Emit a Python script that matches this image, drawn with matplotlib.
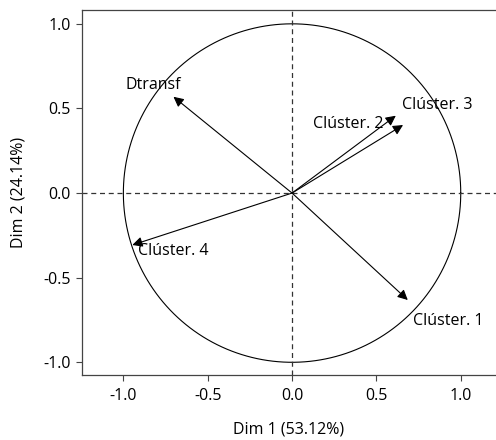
import numpy as np
import matplotlib.pyplot as plt

# Coordenadas de las variables (Dim 1, Dim 2)
variables = ['Dtransf', 'Clúster. 2', 'Clúster. 3', 'Clúster. 4', 'Clúster. 1']
dim1 = [-0.703, 0.615, 0.658, -0.947, 0.686]
dim2 = [0.569, 0.457, 0.402, -0.307, -0.632]

# Posición de las etiquetas
lab_x = [-0.99, 0.125, 0.652, -0.912, 0.717]
lab_y = [0.64, 0.41, 0.52, -0.34, -0.755]

ticks = [-1.0, -0.5, 0.0, 0.5, 1.0]
tick_labels = ['-1.0', '-0.5', '0.0', '0.5', '1.0']

plt.rcParams['font.family'] = ['Open Sans', 'DejaVu Sans']

fig = plt.figure(figsize=(4.96, 4.4), dpi=100)
ax = fig.add_axes([0.1647, 0.147, 0.8353, 0.83])

# Círculo de correlación
t = np.linspace(0, 2 * np.pi, 400)
ax.plot(np.cos(t), np.sin(t), color='black', lw=0.8)

ax.axhline(0, color='#333333', lw=0.9, ls=(0, (4, 3)))
ax.axvline(0, color='#333333', lw=0.9, ls=(0, (4, 3)))

for i in range(len(variables)):
    ax.annotate('', xy=(dim1[i], dim2[i]), xytext=(0, 0),
                arrowprops=dict(arrowstyle='-|>', color='black', lw=0.8,
                                mutation_scale=15, shrinkA=0, shrinkB=0))
    ax.text(lab_x[i], lab_y[i], variables[i], fontsize=11.5, ha='left', va='center')

ax.set_xlim(-1.247, 1.209)
ax.set_ylim(-1.077, 1.081)
ax.set_xticks(ticks)
ax.set_xticklabels(tick_labels)
ax.set_yticks(ticks)
ax.set_yticklabels(tick_labels)
ax.tick_params(labelsize=11.5, length=4, width=0.8, color='#444444')
ax.tick_params(axis='x', pad=5)
ax.tick_params(axis='y', pad=4)
for s in ax.spines.values():
    s.set_color('#444444')
    s.set_linewidth(0.9)
ax.spines['right'].set_visible(False)

ax.set_xlabel('Dim 1 (53.12%)', fontsize=11.5, labelpad=13)
ax.set_ylabel('Dim 2 (24.14%)', fontsize=11.5, labelpad=12)

fig.savefig('out.png', dpi=100)
